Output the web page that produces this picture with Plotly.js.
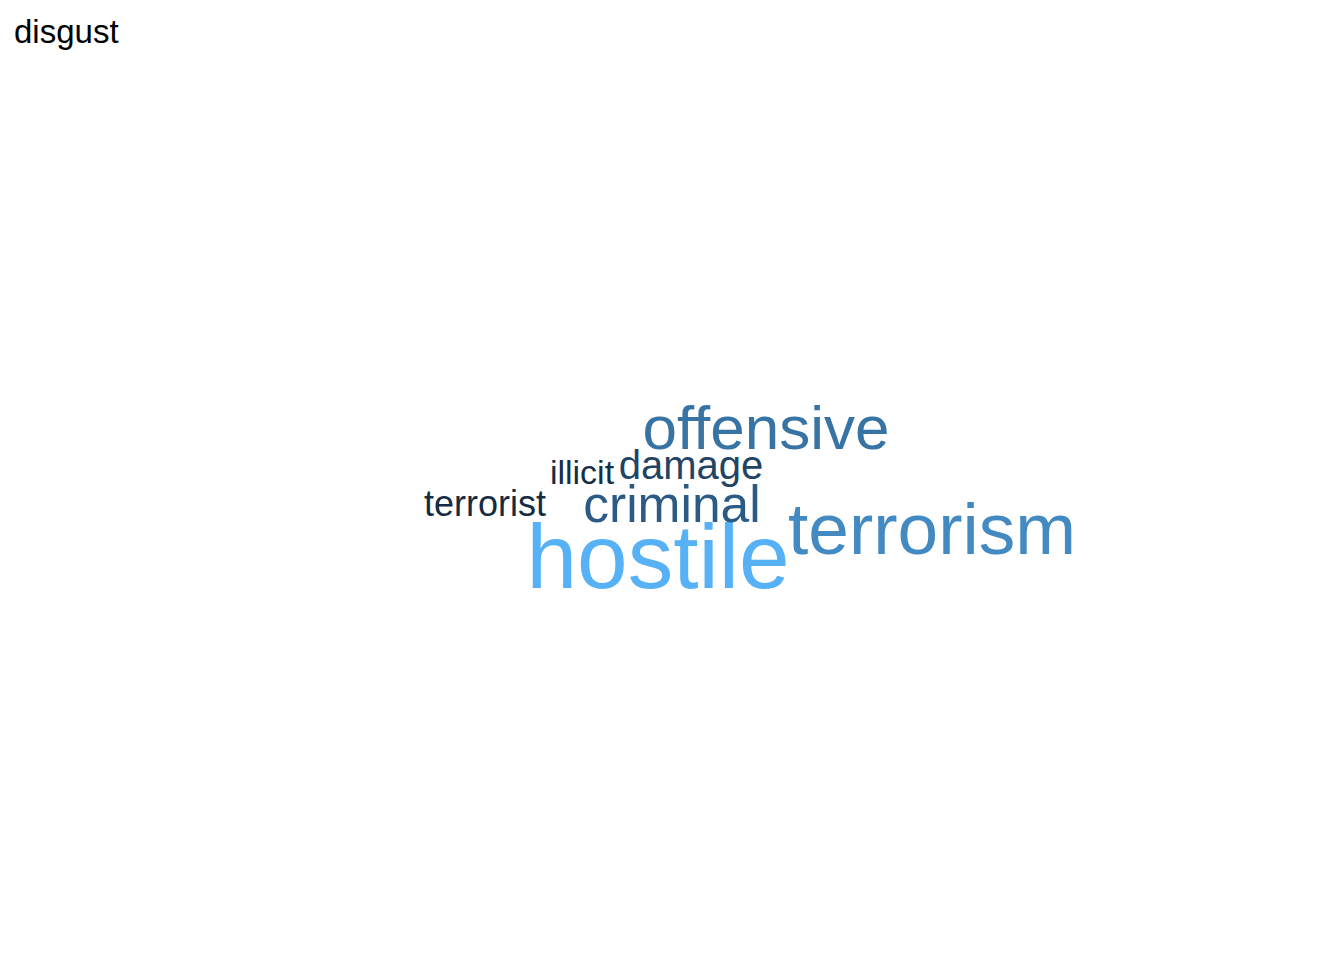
<!DOCTYPE html>
<html>
<head>
<meta charset="utf-8">
<script src="https://cdn.plot.ly/plotly-3.0.1.min.js"></script>
<style>html,body{margin:0;padding:0;background:#fff;}#chart{width:1344px;height:960px;}</style>
</head>
<body>
<div id="chart"></div>
<script>
// Word cloud data
const words = ["hostile", "terrorism", "offensive", "criminal", "damage", "illicit", "terrorist"];
const freq  = [12, 9.5, 8, 6.5, 5, 3.6, 3.4];

// Layout (word placement, computed by the cloud layout) and sizes
const wordX = [658, 932, 766, 672, 691, 582, 485];
const wordBaseline = [592, 556, 450, 522, 478, 482, 515];
const fontSize = [91, 73, 62, 51.5, 40, 34, 36];

// Colour scale low -> high (ggplot default gradient)
const lowCol = [0x13, 0x2B, 0x43], highCol = [0x56, 0xB1, 0xF7];
const fMin = Math.min(...freq), fMax = Math.max(...freq);
const colors = freq.map(f => {
  const t = (f - fMin) / (fMax - fMin);
  const c = lowCol.map((l, i) => Math.round(l + (highCol[i] - l) * t));
  return `rgb(${c[0]},${c[1]},${c[2]})`;
});
// Plotly centers text vertically around the baseline offset
const wordY = wordBaseline.map((b, i) => b - 0.35 * fontSize[i] + 5);

const trace = {
  type: 'scatter', mode: 'text',
  x: wordX, y: wordY, text: words,
  textposition: 'middle center',
  textfont: {family: 'Liberation Sans, Arial, sans-serif', size: fontSize, color: colors},
  hoverinfo: 'text', showlegend: false
};

const layout = {
  width: 1344, height: 960,
  margin: {l: 0, r: 0, t: 0, b: 0},
  paper_bgcolor: '#ffffff', plot_bgcolor: '#ffffff',
  xaxis: {range: [0, 1344], visible: false, fixedrange: true},
  yaxis: {range: [960, 0], visible: false, fixedrange: true},
  title: {text: 'disgust', x: 14/1344, xanchor: 'left', xref: 'paper', y: 1 - 31/960, yanchor: 'middle',
          font: {family: 'Liberation Sans, Arial, sans-serif', size: 33, color: '#000000'}}
};

Plotly.newPlot('chart', [trace], layout, {displayModeBar: false, staticPlot: true});
</script>
</body>
</html>
